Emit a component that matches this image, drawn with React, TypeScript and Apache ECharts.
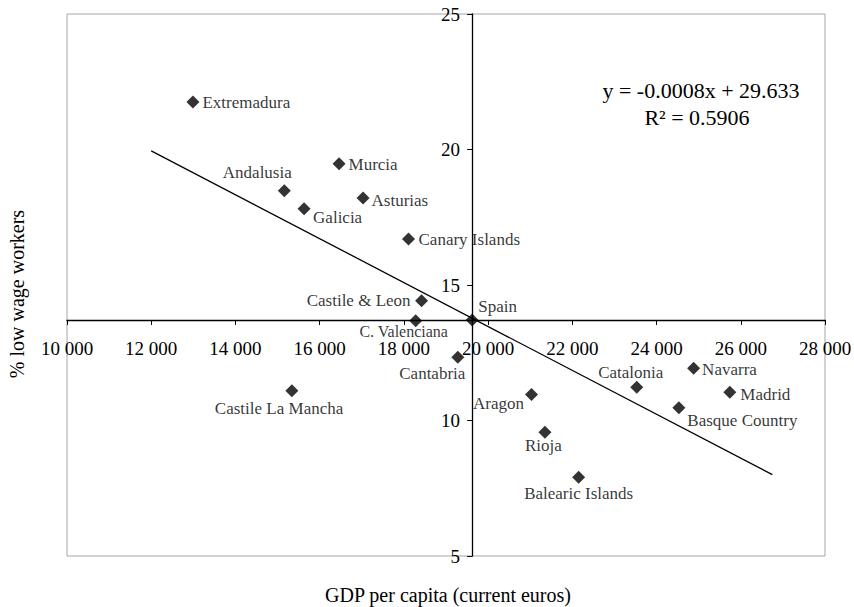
import React, { useEffect, useRef } from "react";
import * as echarts from "echarts";

// ---- Data ----
const regions = [
  "Extremadura",
  "Andalusia",
  "Galicia",
  "Murcia",
  "Asturias",
  "Canary Islands",
  "Castile & Leon",
  "C. Valenciana",
  "Spain",
  "Cantabria",
  "Castile La Mancha",
  "Aragon",
  "Rioja",
  "Balearic Islands",
  "Catalonia",
  "Basque Country",
  "Navarra",
  "Madrid",
];
const gdpPerCapita = [
  12990, 15160, 15630, 16460, 17030, 18110, 18420, 18280, 19620, 19280, 15340,
  21030, 21350, 22150, 23530, 24530, 24880, 25740,
];
const lowWageShare = [
  21.75, 18.48, 17.81, 19.47, 18.21, 16.7, 14.42, 13.68, 13.71, 12.33, 11.1,
  10.96, 9.57, 7.91, 11.23, 10.47, 11.93, 11.04,
];
// Trend line end points
const trendGdp = [12000, 26750];
const trendShare = [19.95, 8.0];
// Axes
const xMin = 10000;
const xMax = 28000;
const xInterval = 2000;
const yMin = 5;
const yMax = 25;
const yInterval = 5;
// Axes cross at Spain
const crossGdp = 19620;
const crossShare = 13.71;

const equationText = "y = -0.0008x + 29.633";
const r2Text = "R² = 0.5906";
const xName = "GDP per capita (current euros)";
const yName = "% low wage workers";

// ---- Layout / styling ----
const W = 854;
const H = 607;
const gridLeft = 67;
const gridRight = 29;
const gridTop = 14;
const gridBottom = 51;
const FONT = "'Liberation Serif', 'DejaVu Serif', serif";

const labelPlacement: Record<string, any> = {
  Extremadura: { position: "right", distance: 3, offset: [0, 0] },
  Murcia: { position: "right", distance: 3, offset: [0, 1] },
  Asturias: { position: "right", distance: 2, offset: [0, 2.5] },
  "Canary Islands": { position: "right", distance: 3.5, offset: [0, 1] },
  Navarra: { position: "right", distance: 2, offset: [0, 1] },
  Madrid: { position: "right", distance: 4, offset: [0, 2.4] },
  Galicia: { position: "right", distance: 2.5, offset: [0, 8.7] },
  "Basque Country": { position: "right", distance: 2, offset: [0, 12.6] },
  "Castile & Leon": { position: "left", distance: 4.5, offset: [0, -0.7] },
  Aragon: { position: "left", distance: 1, offset: [0, 9] },
  Andalusia: { position: "inside", offset: [-27, -18] },
  "C. Valenciana": { position: "inside", offset: [-12, 10.5], fontSize: 16 },
  Spain: { position: "inside", offset: [25.6, -13.3] },
  Cantabria: { position: "inside", offset: [-25.5, 16] },
  "Castile La Mancha": { position: "inside", offset: [-12.8, 18] },
  Rioja: { position: "inside", offset: [-1.6, 13.7] },
  "Balearic Islands": { position: "inside", offset: [0, 16.3] },
  Catalonia: { position: "inside", offset: [-6, -14.3] },
};

export default function App() {
  const ref = useRef<HTMLDivElement>(null);

  useEffect(() => {
    document.body.style.margin = "0";
    if (!ref.current) return;
    const chart = echarts.init(ref.current, undefined, { renderer: "svg" });

    const plotW = W - gridLeft - gridRight;
    const plotH = H - gridTop - gridBottom;
    const xAxisOffset = -((crossShare - yMin) / (yMax - yMin)) * plotH;
    const yAxisOffset = -((crossGdp - xMin) / (xMax - xMin)) * plotW;

    const points = regions.map((name, i) => {
      const p = labelPlacement[name] || { position: "right" };
      return {
        name,
        value: [gdpPerCapita[i], lowWageShare[i]],
        label: {
          position: p.position,
          distance: p.distance ?? 4,
          offset: p.offset,
          fontSize: p.fontSize ?? 17,
        },
      };
    });

    chart.setOption({
      animation: false,
      backgroundColor: "#ffffff",
      grid: {
        left: gridLeft,
        right: gridRight,
        top: gridTop,
        bottom: gridBottom,
        show: true,
        borderColor: "#a6a6a6",
        borderWidth: 1,
        backgroundColor: "transparent",
        outerBoundsMode: "none",
      },
      xAxis: {
        type: "value",
        min: xMin,
        max: xMax,
        interval: xInterval,
        position: "bottom",
        offset: xAxisOffset,
        axisLine: { show: true, onZero: false, lineStyle: { color: "#000", width: 1.3 } },
        axisTick: { show: true, length: 5, lineStyle: { color: "#000" } },
        axisLabel: {
          show: true,
          margin: 19,
          color: "#000",
          fontFamily: FONT,
          fontSize: 19,
          showMinLabel: true,
          showMaxLabel: true,
          formatter: (v: number) => {
            const s = String(Math.round(v));
            return s.replace(/\B(?=(\d{3})+(?!\d))/g, " ");
          },
        },
        splitLine: { show: false },
      },
      yAxis: {
        type: "value",
        min: yMin,
        max: yMax,
        interval: yInterval,
        position: "left",
        offset: yAxisOffset,
        axisLine: { show: true, onZero: false, lineStyle: { color: "#000", width: 1.3 } },
        axisTick: { show: true, length: 5, lineStyle: { color: "#000" } },
        axisLabel: {
          show: true,
          margin: 12,
          color: "#000",
          fontFamily: FONT,
          fontSize: 19,
          showMinLabel: true,
          showMaxLabel: true,
        },
        splitLine: { show: false },
      },
      graphic: [
        {
          type: "text",
          x: 701,
          y: 90,
          style: {
            text: equationText,
            font: `22px ${FONT}`,
            fill: "#000",
            textAlign: "center",
            textVerticalAlign: "middle",
          },
        },
        {
          type: "text",
          x: 697,
          y: 117,
          style: {
            text: r2Text,
            font: `22px ${FONT}`,
            fill: "#000",
            textAlign: "center",
            textVerticalAlign: "middle",
          },
        },
        {
          type: "text",
          x: 448,
          y: 595,
          style: {
            text: xName,
            font: `20px ${FONT}`,
            fill: "#000",
            textAlign: "center",
            textVerticalAlign: "middle",
          },
        },
        {
          type: "text",
          x: 17,
          y: 294,
          rotation: Math.PI / 2,
          style: {
            text: yName,
            font: `20px ${FONT}`,
            fill: "#000",
            textAlign: "center",
            textVerticalAlign: "middle",
          },
        },
      ],
      series: [
        {
          type: "line",
          data: trendGdp.map((x, i) => [x, trendShare[i]]),
          showSymbol: false,
          symbol: "none",
          lineStyle: { color: "#000", width: 1.3 },
          silent: true,
          z: 2,
        },
        {
          type: "scatter",
          symbol: "diamond",
          symbolSize: 13,
          itemStyle: { color: "#000" },
          label: {
            show: true,
            formatter: "{b}",
            color: "#000",
            fontFamily: FONT,
            fontSize: 17,
          },
          data: points,
          z: 3,
        },
      ],
    });

    return () => chart.dispose();
  }, []);

  return <div ref={ref} style={{ width: W, height: H }} />;
}
